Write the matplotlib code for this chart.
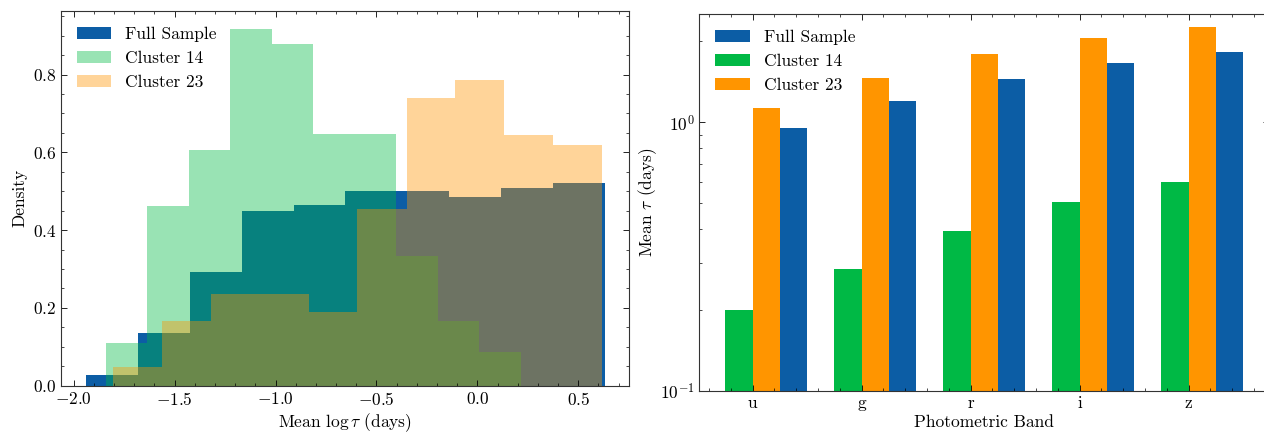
import numpy as np
import matplotlib
matplotlib.use("Agg")
import matplotlib.pyplot as plt
from matplotlib.ticker import AutoMinorLocator

# histogram bins / densities of mean log tau
full_edges = [-1.940, -1.683, -1.426, -1.168, -0.911, -0.654, -0.396, -0.139, 0.118, 0.376, 0.633]
full_dens = [0.027, 0.1345, 0.293, 0.449, 0.465, 0.500, 0.500, 0.485, 0.507, 0.521]

c14_edges = [-1.840, -1.635, -1.429, -1.224, -1.018, -0.813, -0.607, -0.402, -0.196, 0.009, 0.215]
c14_dens = [0.111, 0.462, 0.606, 0.917, 0.878, 0.647, 0.647, 0.334, 0.166, 0.087]

c23_edges = [-1.805, -1.563, -1.320, -1.078, -0.836, -0.594, -0.351, -0.109, 0.133, 0.376, 0.618]
c23_dens = [0.047, 0.166, 0.237, 0.237, 0.190, 0.453, 0.739, 0.786, 0.644, 0.620]

# mean tau per photometric band
bands = ["u", "g", "r", "i", "z"]
full_tau = [0.95, 1.195, 1.455, 1.665, 1.82]
c14_tau = [0.199, 0.284, 0.395, 0.505, 0.60]
c23_tau = [1.13, 1.465, 1.80, 2.065, 2.26]

BLUE, GREEN, ORANGE = "#0C5DA5", "#00B945", "#FF9500"

plt.rcParams.update({
    "font.family": "serif",
    "font.serif": ["cmr10", "DejaVu Serif"],
    "mathtext.fontset": "cm",
    "axes.formatter.use_mathtext": True,
    "axes.unicode_minus": True,
    "font.size": 12.5,
    "axes.linewidth": 0.8,
    "axes.edgecolor": "#333333",
    "xtick.direction": "in",
    "ytick.direction": "in",
    "xtick.top": True,
    "ytick.right": True,
    "xtick.minor.visible": True,
    "ytick.minor.visible": True,
    "xtick.major.size": 4.5,
    "ytick.major.size": 4.5,
    "xtick.minor.size": 2.3,
    "ytick.minor.size": 2.3,
    "xtick.major.width": 0.6,
    "ytick.major.width": 0.6,
    "xtick.minor.width": 0.5,
    "ytick.minor.width": 0.5,
    "legend.frameon": False,
})

fig = plt.figure(figsize=(12.64, 4.32), dpi=100)
ax1 = fig.add_axes([0.0483, 0.1072, 0.4494, 0.868])
ax2 = fig.add_axes([0.5534, 0.0956, 0.4506, 0.872])

# left: density histograms
ax1.stairs(full_dens, full_edges, fill=True, color=BLUE, linewidth=0, label="Full Sample")
ax1.stairs(c14_dens, c14_edges, fill=True, color=GREEN, alpha=0.4, linewidth=0, label="Cluster 14")
ax1.stairs(c23_dens, c23_edges, fill=True, color=ORANGE, alpha=0.4, linewidth=0, label="Cluster 23")
ax1.set_xlim(-2.063, 0.752)
ax1.set_ylim(0, 0.964)
ax1.xaxis.set_minor_locator(AutoMinorLocator())
ax1.yaxis.set_minor_locator(AutoMinorLocator())
ax1.set_xlabel(r"Mean $\log\tau$ (days)", labelpad=2.5)
ax1.set_ylabel("Density")
ax1.legend(loc="upper left")

# right: mean tau per band, log scale
x = np.arange(len(bands))
w = 0.25
ax2.bar(x + 1.5 * w, full_tau, w, color=BLUE, label="Full Sample")
ax2.bar(x - 0.5 * w, c14_tau, w, color=GREEN, label="Cluster 14")
ax2.bar(x + 0.5 * w, c23_tau, w, color=ORANGE, label="Cluster 23")
ax2.set_yscale("log")
ax2.set_ylim(0.1, 2.53)
ax2.set_xticks(x)
ax2.set_xticklabels(bands)
ax2.xaxis.set_minor_locator(AutoMinorLocator())
ax2.set_xlabel("Photometric Band", labelpad=2.5)
ax2.set_ylabel(r"Mean $\tau$ (days)", labelpad=1)
ax2.legend(loc="upper left")

fig.savefig("out.png", dpi=100)
